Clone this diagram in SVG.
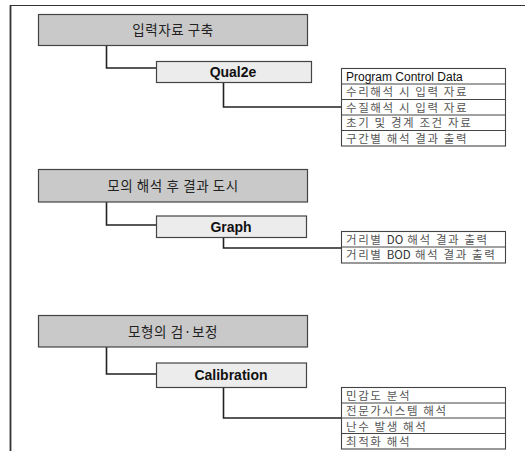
<svg xmlns="http://www.w3.org/2000/svg" width="525" height="451" viewBox="0 0 525 451">
<style>
.frame{stroke:#333;fill:none}
.hdr{fill:#c9c9c9;stroke:#444;stroke-width:1.2}
.sub{fill:#ececec;stroke:#444;stroke-width:1.2}
.lst{fill:#fff;stroke:#444;stroke-width:1.1}
.div{stroke:#444;stroke-width:1}
.conn{fill:none;stroke:#222;stroke-width:1.6}
.ht{font-family:"Noto Sans CJK KR","Liberation Sans",sans-serif;font-size:13.5px;letter-spacing:0.6px;fill:#222;text-anchor:middle}
.st{font-family:"Liberation Sans","Noto Sans CJK KR",sans-serif;font-size:14px;font-weight:bold;fill:#111;text-anchor:middle}
.lt{font-family:"Noto Sans CJK KR","Liberation Sans",sans-serif;font-size:11.5px;letter-spacing:1.6px;fill:#555}
.le{font-family:"Liberation Sans","Noto Sans CJK KR",sans-serif;font-size:12px;fill:#111}
</style>
<rect width="525" height="451" fill="#fff"/>
<g id="frame">
<line class="frame" x1="10" y1="5.5" x2="525" y2="5.5" stroke-width="1.2"/>
<line class="frame" x1="10.5" y1="5" x2="10.5" y2="451" stroke-width="1.8"/>
</g>
<g id="connectors">
<polyline class="conn" points="106.5,45.5 106.5,68 156.5,68"/>
<polyline class="conn" points="223.5,82.5 223.5,107 341.5,107"/>
<polyline class="conn" points="106.5,202 106.5,225 156.5,225"/>
<polyline class="conn" points="223.5,237.5 223.5,248 341.5,248"/>
<polyline class="conn" points="106.5,347 106.5,374 156.5,374"/>
<polyline class="conn" points="223.5,387.5 223.5,418 341.5,418"/>
</g>
<g id="h1">
<rect class="hdr" x="38.5" y="14.5" width="269" height="31"/>
<text class="ht" x="173" y="34.5">입력자료 구축</text>
</g>
<g id="s1">
<rect class="sub" x="156.5" y="61.5" width="155" height="21"/>
<text class="st" x="233" y="76.5">Qual2e</text>
</g>
<g id="l1">
<rect class="lst" x="341.5" y="68.5" width="164" height="77.5"/>
<line class="div" x1="341.5" y1="84" x2="505.5" y2="84"/>
<line class="div" x1="341.5" y1="99.5" x2="505.5" y2="99.5"/>
<line class="div" x1="341.5" y1="115" x2="505.5" y2="115"/>
<line class="div" x1="341.5" y1="130.5" x2="505.5" y2="130.5"/>
<text class="le" x="346" y="80.5">Program Control Data</text>
<text class="lt" x="346" y="96">수리해석 시 입력 자료</text>
<text class="lt" x="346" y="111.5">수질해석 시 입력 자료</text>
<text class="lt" x="346" y="127">초기 및 경계 조건 자료</text>
<text class="lt" x="346" y="142.5">구간별 해석 결과 출력</text>
</g>
<g id="h2">
<rect class="hdr" x="38.5" y="169.5" width="269" height="32.5"/>
<text class="ht" x="173" y="190.5">모의 해석 후 결과 도시</text>
</g>
<g id="s2">
<rect class="sub" x="156.5" y="216" width="150" height="21.5"/>
<text class="st" x="231" y="231.5">Graph</text>
</g>
<g id="l2">
<rect class="lst" x="341.5" y="231.5" width="164" height="31.5"/>
<line class="div" x1="341.5" y1="247" x2="505.5" y2="247"/>
<text class="lt" x="346" y="243.5">거리별 <tspan fill="#333" letter-spacing="0">DO</tspan> 해석 결과 출력</text>
<text class="lt" x="346" y="259">거리별 <tspan fill="#333" letter-spacing="0">BOD</tspan> 해석 결과 출력</text>
</g>
<g id="h3">
<rect class="hdr" x="38.5" y="315.5" width="269" height="31.5"/>
<text class="ht" x="173" y="336.5">모형의 검·보정</text>
</g>
<g id="s3">
<rect class="sub" x="156.5" y="363" width="150" height="24.5"/>
<text class="st" x="231" y="380">Calibration</text>
</g>
<g id="l3">
<rect class="lst" x="341.5" y="387.5" width="164" height="61.5"/>
<line class="div" x1="341.5" y1="403" x2="505.5" y2="403"/>
<line class="div" x1="341.5" y1="418" x2="505.5" y2="418"/>
<line class="div" x1="341.5" y1="433.5" x2="505.5" y2="433.5"/>
<text class="lt" x="346" y="399.5">민감도 분석</text>
<text class="lt" x="346" y="415">전문가시스템 해석</text>
<text class="lt" x="346" y="430.5">난수 발생 해석</text>
<text class="lt" x="346" y="446">최적화 해석</text>
</g>
</svg>
